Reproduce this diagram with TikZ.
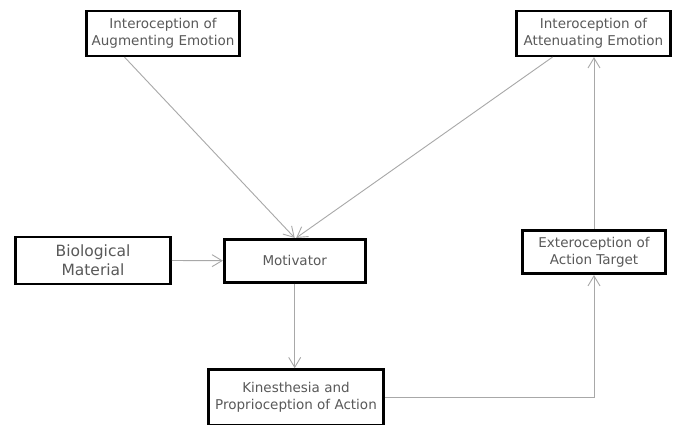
\documentclass[tikz,border=0pt]{standalone}
\usepackage{fontspec}
\setmainfont{DejaVu Sans}
\usetikzlibrary{arrows.meta,calc}
\definecolor{txtgray}{HTML}{595959}
\definecolor{linegray}{HTML}{A8A8A8}
\tikzset{
  box/.style={draw=black, line width=2.6pt, fill=white, align=center, text=txtgray,
    font=\fontsize{13.5}{16.7}\selectfont, inner sep=0pt},
  conn/.style={draw=linegray, line width=0.9pt, -{Straight Barb[length=10pt,width=12pt,line width=0.9pt]}},
  plain/.style={draw=linegray, line width=0.9pt}
}
\begin{document}
\begin{tikzpicture}[x=1pt,y=-1pt]
\useasboundingbox (0,0) rectangle (673,424);
\clip (0,0) rectangle (673,424);
\fill[white] (0,0) rectangle (673,424);
\node[box, minimum width=153pt, minimum height=45pt] (aug) at (163,33.3) {Interoception of\\Augmenting Emotion};
\node[box, minimum width=154pt, minimum height=45pt] (att) at (593.5,33.3) {Interoception of\\Attenuating Emotion};
\node[box, minimum width=155pt, minimum height=47pt, font=\fontsize{15.5}{19}\selectfont] (bio) at (93,260.5) {Biological\\Material};
\node[box, minimum width=141pt, minimum height=43pt] (mot) at (294.7,260.7) {Motivator};
\node[box, minimum width=143pt, minimum height=43.5pt] (ext) at (594,252) {Exteroception of\\Action Target};
\node[box, minimum width=175pt, minimum height=56pt] (kin) at (296,397.5) {Kinesthesia and\\Proprioception of Action};
\draw[conn] ($(aug.south)+(-38.5,0)$) -- (mot.north);
\draw[conn] ($(att.south)+(-41,0)$) -- ($(mot.north)+(1.5,0)$);
\draw[conn] (bio.east) -- (mot.west);
\draw[conn] (mot.south) -- (mot.south |- kin.north);
\draw[conn] (kin.east) -| (ext.south);
\draw[conn] (ext.north) -- (ext.north |- att.south);
\end{tikzpicture}
\end{document}
